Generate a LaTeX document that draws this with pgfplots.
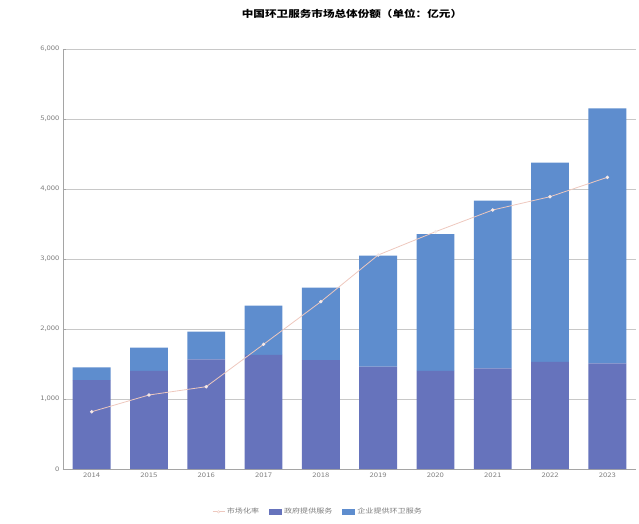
\documentclass[border=0pt]{standalone}
\usepackage{pgfplots}
\pgfplotsset{compat=1.18}
\usepackage{fontspec}
\setmainfont{Noto Sans CJK SC}[FakeStretch=1.22]
\usetikzlibrary{calc}
\definecolor{govblue}{RGB}{102,115,188}
\definecolor{entblue}{RGB}{94,141,206}
\definecolor{rateline}{RGB}{238,200,190}
\definecolor{gridgray}{RGB}{200,200,200}
\definecolor{axisgray}{RGB}{165,165,165}
\definecolor{ticktext}{RGB}{125,125,125}

\begin{document}
\begin{tikzpicture}[x=1pt,y=1pt]
\begin{axis}[
    at={(0,0)}, anchor=south west,
    scale only axis, width=573pt, height=420pt,
    ybar stacked, bar width=0.66,
    xmin=-0.5, xmax=9.5, ymin=0, ymax=6000,
    xtick={0,...,9},
    xticklabels={2014,2015,2016,2017,2018,2019,2020,2021,2022,2023},
    ytick={0,1000,...,6000},
    axis x line*=bottom, axis y line*=left,
    axis line style={axisgray, line width=0.5pt},
    x axis line style={-}, y axis line style={-},
    ymajorgrids, grid style={gridgray, line width=0.5pt},
    major tick length=3pt, tick style={axisgray},
    xtick style={draw=none},
    tick label style={font=\fontsize{6.3}{7}\selectfont, text=ticktext},
    /pgf/number format/assume math mode=true,
    /pgf/number format/1000 sep={,},
    scaled y ticks=false,
    legend style={at={(0.445,-0.102)}, anchor=center, draw=none,
        font=\fontsize{6.6}{8}\selectfont, text=ticktext,
        legend columns=3, /tikz/every even column/.append style={column sep=8pt}},
    legend image code/.code={\draw[#1, draw=none] (0pt,-3pt) rectangle (13pt,3pt);},
]
\coordinate (ll) at (rel axis cs:0,0);
\addlegendimage{legend image code/.code={
    \draw[rateline, line width=0.8pt] (0pt,0pt) -- (12pt,0pt);
    \filldraw[fill=white, draw=rateline] (6pt,0pt) circle (1.3pt);}}
\addlegendentry{市场化率}
\addplot[fill=govblue, draw=none] coordinates {
    (0,1270) (1,1400) (2,1567) (3,1629) (4,1557)
    (5,1462) (6,1400) (7,1438) (8,1529) (9,1510)
};
\addlegendentry{政府提供服务}
\addplot[fill=entblue, draw=none] coordinates {
    (0,182) (1,333) (2,394) (3,704) (4,1033)
    (5,1586) (6,1957) (7,2395) (8,2847) (9,3643)
};
\addlegendentry{企业提供环卫服务}
\end{axis}

\begin{axis}[
    at={(0,0)}, anchor=south west,
    scale only axis, width=573pt, height=420pt,
    xmin=-0.5, xmax=9.5, ymin=0, ymax=6000,
    hide x axis, hide y axis,
]
\addplot[rateline, line width=0.8pt, mark=*, mark size=1.3pt,
    mark options={fill=white!85!entblue, draw=white!60!rateline}] coordinates {
    (0,818) (1,1057) (2,1176) (3,1781) (4,2390)
    (5,3057) (6,3390) (7,3700) (8,3890) (9,4167)
};
\end{axis}
\node[font=\bfseries\fontsize{9.5}{11}\selectfont] at ($(ll)+(289,455)$) {中国环卫服务市场总体份额（单位：亿元）};
\pgfresetboundingbox
\useasboundingbox ($(ll)+(-63,-55)$) rectangle ++(639,524);
\end{tikzpicture}
\end{document}
